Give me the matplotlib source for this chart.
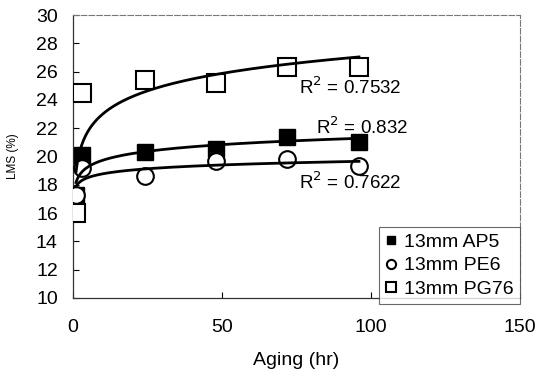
import numpy as np
import matplotlib.pyplot as plt

# aging time (hr) and LMS (%)
hours = [1, 3, 24, 48, 72, 96]
ap5 = [17.3, 20.1, 20.3, 20.5, 21.4, 21.0]
pe6 = [17.3, 19.2, 18.6, 19.7, 19.8, 19.3]
pg76 = [16.0, 24.5, 25.4, 25.2, 26.3, 26.3]
labels = ['13mm AP5', '13mm PE6', '13mm PG76']
r2_text = ['0.832', '0.7622', '0.7532']


def log_trend(x, y):
    # excel style logarithmic trendline: y = a*ln(x) + b
    a, b = np.polyfit(np.log(x), y, 1)
    xs = np.linspace(min(x), max(x), 300)
    return xs, a * np.log(xs) + b


def graph():
    plt.rcParams['font.family'] = ['Liberation Sans', 'DejaVu Sans']
    fig = plt.figure(figsize=(5.37, 3.85), dpi=100)
    ax = fig.add_axes([0.136, 0.226, 0.832, 0.735])

    styles = [
        dict(marker='s', mfc='black', mec='black', ms=11),
        dict(marker='o', mfc='white', mec='black', ms=12, mew=1.5),
        dict(marker='s', mfc='white', mec='black', ms=13, mew=1.5),
    ]
    handles = []
    for y, st, lab in zip([ap5, pe6, pg76], styles, labels):
        h, = ax.plot(hours, y, linestyle='none', label=lab, zorder=3, **st)
        handles.append(h)
        xs, ys = log_trend(hours, y)
        ax.plot(xs, ys, color='black', lw=2.0, zorder=4)

    kw = dict(fontsize=13.5, color='black', zorder=5, ha='center', va='center')
    ax.text(97, 22.1, r'R$^2$ = ' + r2_text[0], **kw)
    ax.text(93, 18.2, r'R$^2$ = ' + r2_text[1], **kw)
    ax.text(93, 24.9, r'R$^2$ = ' + r2_text[2], **kw)

    ax.set_xlim(0, 150)
    ax.set_ylim(10, 30)
    ax.set_xticks([0, 50, 100, 150])
    ax.set_yticks(np.arange(10, 31, 2))
    ax.tick_params(direction='in', length=4, width=0.8, labelsize=14)
    ax.tick_params(axis='y', pad=11)
    ax.tick_params(axis='x', pad=15)
    for s in ['top', 'right']:
        ax.spines[s].set_linestyle((0, (5, 2)))
        ax.spines[s].set_color('#777777')
        ax.spines[s].set_linewidth(0.8)
    for s in ['left', 'bottom']:
        ax.spines[s].set_color('#333333')
        ax.spines[s].set_linewidth(0.9)

    ax.set_xlabel('Aging (hr)', fontsize=14, labelpad=12)
    ax.set_ylabel('LMS (%)', fontsize=8.5, labelpad=12)

    leg = ax.legend(handles=handles, loc='lower right', fontsize=14,
                    markerscale=0.55, handlelength=0.6, handletextpad=0.4,
                    borderpad=0.3, labelspacing=0.3, fancybox=False,
                    bbox_to_anchor=(1.0, -0.02), borderaxespad=0.0)
    leg.get_frame().set_edgecolor('#444444')
    leg.get_frame().set_linewidth(0.8)
    leg.set_zorder(6)

    plt.savefig('out.png', dpi=100)


def main():
    graph()


if __name__ == "__main__":
    main()
